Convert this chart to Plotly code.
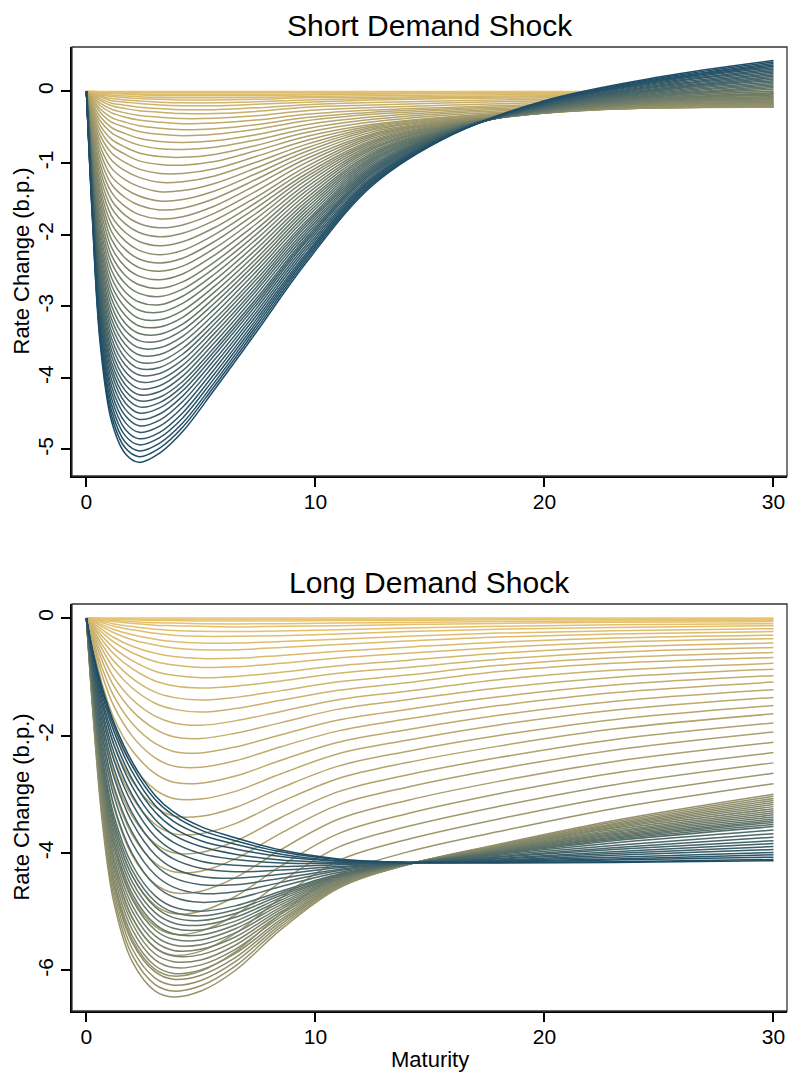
import plotly.graph_objects as go

# Maturity grid (years) for each panel
maturity_short = [0, 0.25, 0.6, 1.1, 1.7, 2.3, 3.2, 4.2, 5.6, 7.4, 9.6, 12.5, 16, 20, 25, 30]
maturity_long = [0, 0.3, 0.7, 1.2, 2, 3, 3.8, 5, 6.5, 8.5, 11, 14, 18, 23, 30]

# Rate change (b.p.) along the maturity grid, one row per curve, ordered gold -> blue
short_shock_curves = [
    [0, 0, 0, 0, 0, 0, 0, 0, 0, 0, 0, 0, 0, 0, 0, 0],
    [0, 0, -0.005, -0.005, -0.005, -0.01, -0.01, -0.01, -0.01, -0.01, -0.01, -0.005, -0.005, -0.005, -0.005, -0.005],
    [0, 0, -0.01, -0.01, -0.01, -0.02, -0.02, -0.02, -0.02, -0.02, -0.02, -0.01, -0.01, -0.01, -0.01, -0.01],
    [0, -0.005, -0.015, -0.02, -0.025, -0.035, -0.04, -0.04, -0.04, -0.04, -0.035, -0.025, -0.02, -0.02, -0.015, -0.015],
    [0, -0.01, -0.02, -0.03, -0.04, -0.05, -0.06, -0.06, -0.06, -0.06, -0.05, -0.04, -0.03, -0.03, -0.02, -0.02],
    [0, -0.015, -0.035, -0.05, -0.065, -0.075, -0.085, -0.09, -0.09, -0.085, -0.07, -0.06, -0.05, -0.045, -0.035, -0.03],
    [0, -0.02, -0.05, -0.07, -0.09, -0.10, -0.11, -0.12, -0.12, -0.11, -0.09, -0.08, -0.07, -0.06, -0.05, -0.04],
    [0, -0.03, -0.065, -0.10, -0.12, -0.135, -0.15, -0.16, -0.16, -0.145, -0.12, -0.10, -0.085, -0.075, -0.06, -0.055],
    [0, -0.04, -0.08, -0.13, -0.15, -0.17, -0.19, -0.20, -0.20, -0.18, -0.15, -0.12, -0.10, -0.09, -0.07, -0.07],
    [0, -0.05, -0.105, -0.165, -0.195, -0.22, -0.24, -0.255, -0.255, -0.23, -0.185, -0.155, -0.13, -0.11, -0.09, -0.085],
    [0, -0.06, -0.13, -0.20, -0.24, -0.27, -0.29, -0.31, -0.31, -0.28, -0.22, -0.19, -0.16, -0.13, -0.11, -0.10],
    [0, -0.075, -0.165, -0.25, -0.30, -0.335, -0.36, -0.38, -0.375, -0.34, -0.27, -0.225, -0.19, -0.155, -0.13, -0.12],
    [0, -0.09, -0.20, -0.30, -0.36, -0.40, -0.43, -0.45, -0.44, -0.40, -0.32, -0.26, -0.22, -0.18, -0.15, -0.14],
    [0, -0.11, -0.245, -0.365, -0.43, -0.48, -0.515, -0.535, -0.52, -0.465, -0.365, -0.29, -0.24, -0.20, -0.165, -0.15],
    [0, -0.13, -0.29, -0.43, -0.50, -0.56, -0.60, -0.62, -0.60, -0.53, -0.41, -0.32, -0.26, -0.22, -0.18, -0.16],
    [0, -0.16, -0.35, -0.505, -0.59, -0.655, -0.70, -0.715, -0.69, -0.605, -0.465, -0.355, -0.28, -0.235, -0.195, -0.17],
    [0, -0.19, -0.41, -0.58, -0.68, -0.75, -0.80, -0.81, -0.78, -0.68, -0.52, -0.39, -0.30, -0.25, -0.21, -0.18],
    [0, -0.22, -0.475, -0.67, -0.78, -0.86, -0.91, -0.92, -0.88, -0.755, -0.575, -0.425, -0.325, -0.265, -0.22, -0.195],
    [0, -0.25, -0.54, -0.76, -0.88, -0.97, -1.02, -1.03, -0.98, -0.83, -0.63, -0.46, -0.35, -0.28, -0.23, -0.21],
    [0, -0.285, -0.615, -0.86, -0.995, -1.085, -1.145, -1.145, -1.08, -0.91, -0.685, -0.48, -0.36, -0.28, -0.23, -0.21],
    [0, -0.32, -0.69, -0.96, -1.11, -1.20, -1.27, -1.26, -1.18, -0.99, -0.74, -0.50, -0.37, -0.28, -0.23, -0.21],
    [0, -0.36, -0.77, -1.075, -1.235, -1.33, -1.40, -1.385, -1.285, -1.07, -0.79, -0.52, -0.38, -0.285, -0.23, -0.215],
    [0, -0.40, -0.85, -1.19, -1.36, -1.46, -1.53, -1.51, -1.39, -1.15, -0.84, -0.54, -0.39, -0.29, -0.23, -0.22],
    [0, -0.44, -0.935, -1.30, -1.485, -1.59, -1.655, -1.63, -1.495, -1.23, -0.89, -0.565, -0.40, -0.295, -0.225, -0.215],
    [0, -0.48, -1.02, -1.41, -1.61, -1.72, -1.78, -1.75, -1.60, -1.31, -0.94, -0.59, -0.41, -0.30, -0.22, -0.21],
    [0, -0.52, -1.105, -1.52, -1.73, -1.845, -1.905, -1.865, -1.70, -1.395, -0.995, -0.61, -0.415, -0.30, -0.21, -0.195],
    [0, -0.56, -1.19, -1.63, -1.85, -1.97, -2.03, -1.98, -1.80, -1.48, -1.05, -0.63, -0.42, -0.30, -0.20, -0.18],
    [0, -0.60, -1.275, -1.74, -1.97, -2.095, -2.155, -2.10, -1.90, -1.555, -1.10, -0.655, -0.43, -0.30, -0.19, -0.165],
    [0, -0.64, -1.36, -1.85, -2.09, -2.22, -2.28, -2.22, -2.00, -1.63, -1.15, -0.68, -0.44, -0.30, -0.18, -0.15],
    [0, -0.685, -1.44, -1.96, -2.21, -2.34, -2.395, -2.33, -2.095, -1.705, -1.195, -0.70, -0.45, -0.30, -0.17, -0.135],
    [0, -0.73, -1.52, -2.07, -2.33, -2.46, -2.51, -2.44, -2.19, -1.78, -1.24, -0.72, -0.46, -0.30, -0.16, -0.12],
    [0, -0.77, -1.61, -2.18, -2.45, -2.58, -2.63, -2.55, -2.285, -1.855, -1.29, -0.745, -0.465, -0.295, -0.15, -0.105],
    [0, -0.81, -1.70, -2.29, -2.57, -2.70, -2.75, -2.66, -2.38, -1.93, -1.34, -0.77, -0.47, -0.29, -0.14, -0.09],
    [0, -0.85, -1.785, -2.395, -2.685, -2.82, -2.865, -2.76, -2.465, -2.00, -1.39, -0.79, -0.475, -0.285, -0.13, -0.07],
    [0, -0.89, -1.87, -2.50, -2.80, -2.94, -2.98, -2.86, -2.55, -2.07, -1.44, -0.81, -0.48, -0.28, -0.12, -0.05],
    [0, -0.93, -1.95, -2.605, -2.91, -3.055, -3.085, -2.96, -2.635, -2.14, -1.49, -0.835, -0.49, -0.275, -0.11, -0.035],
    [0, -0.97, -2.03, -2.71, -3.02, -3.17, -3.19, -3.06, -2.72, -2.21, -1.54, -0.86, -0.50, -0.27, -0.10, -0.02],
    [0, -1.01, -2.105, -2.805, -3.13, -3.275, -3.29, -3.155, -2.80, -2.275, -1.585, -0.88, -0.505, -0.265, -0.085, 0.005],
    [0, -1.05, -2.18, -2.90, -3.24, -3.38, -3.39, -3.25, -2.88, -2.34, -1.63, -0.90, -0.51, -0.26, -0.07, 0.03],
    [0, -1.085, -2.255, -2.995, -3.34, -3.48, -3.485, -3.335, -2.955, -2.40, -1.675, -0.92, -0.515, -0.255, -0.06, 0.05],
    [0, -1.12, -2.33, -3.09, -3.44, -3.58, -3.58, -3.42, -3.03, -2.46, -1.72, -0.94, -0.52, -0.25, -0.05, 0.07],
    [0, -1.155, -2.40, -3.18, -3.535, -3.68, -3.675, -3.505, -3.105, -2.52, -1.765, -0.96, -0.525, -0.245, -0.035, 0.09],
    [0, -1.19, -2.47, -3.27, -3.63, -3.78, -3.77, -3.59, -3.18, -2.58, -1.81, -0.98, -0.53, -0.24, -0.02, 0.11],
    [0, -1.225, -2.54, -3.36, -3.725, -3.87, -3.855, -3.67, -3.245, -2.635, -1.845, -1.005, -0.535, -0.235, -0.005, 0.13],
    [0, -1.26, -2.61, -3.45, -3.82, -3.96, -3.94, -3.75, -3.31, -2.69, -1.88, -1.03, -0.54, -0.23, 0.01, 0.15],
    [0, -1.295, -2.68, -3.535, -3.915, -4.055, -4.025, -3.825, -3.375, -2.74, -1.92, -1.05, -0.545, -0.22, 0.02, 0.17],
    [0, -1.33, -2.75, -3.62, -4.01, -4.15, -4.11, -3.90, -3.44, -2.79, -1.96, -1.07, -0.55, -0.21, 0.03, 0.19],
    [0, -1.36, -2.815, -3.705, -4.095, -4.235, -4.19, -3.975, -3.505, -2.845, -2.00, -1.09, -0.555, -0.205, 0.045, 0.21],
    [0, -1.39, -2.88, -3.79, -4.18, -4.32, -4.27, -4.05, -3.57, -2.90, -2.04, -1.11, -0.56, -0.20, 0.06, 0.23],
    [0, -1.42, -2.94, -3.865, -4.265, -4.405, -4.345, -4.115, -3.625, -2.945, -2.07, -1.13, -0.565, -0.195, 0.075, 0.25],
    [0, -1.45, -3.00, -3.94, -4.35, -4.49, -4.42, -4.18, -3.68, -2.99, -2.10, -1.15, -0.57, -0.19, 0.09, 0.27],
    [0, -1.485, -3.07, -4.03, -4.44, -4.58, -4.505, -4.255, -3.745, -3.04, -2.14, -1.175, -0.575, -0.18, 0.105, 0.29],
    [0, -1.52, -3.14, -4.12, -4.53, -4.67, -4.59, -4.33, -3.81, -3.09, -2.18, -1.20, -0.58, -0.17, 0.12, 0.31],
    [0, -1.555, -3.205, -4.205, -4.625, -4.76, -4.675, -4.41, -3.875, -3.14, -2.22, -1.215, -0.585, -0.165, 0.135, 0.33],
    [0, -1.59, -3.27, -4.29, -4.72, -4.85, -4.76, -4.49, -3.94, -3.19, -2.26, -1.23, -0.59, -0.16, 0.15, 0.35],
    [0, -1.62, -3.34, -4.375, -4.81, -4.935, -4.835, -4.56, -4.00, -3.235, -2.29, -1.25, -0.59, -0.155, 0.16, 0.37],
    [0, -1.65, -3.41, -4.46, -4.90, -5.02, -4.91, -4.63, -4.06, -3.28, -2.32, -1.27, -0.59, -0.15, 0.17, 0.39],
    [0, -1.68, -3.465, -4.535, -4.98, -5.10, -4.98, -4.69, -4.11, -3.325, -2.355, -1.29, -0.595, -0.14, 0.185, 0.41],
    [0, -1.71, -3.52, -4.61, -5.06, -5.18, -5.05, -4.75, -4.16, -3.37, -2.39, -1.31, -0.60, -0.13, 0.20, 0.43],
]

long_shock_curves = [
    [0, 0, 0, 0, 0, 0, 0, 0, 0, 0, 0, 0, 0, 0, 0],
    [0, 0, -0.005, -0.01, -0.015, -0.02, -0.02, -0.025, -0.025, -0.025, -0.02, -0.02, -0.015, -0.015, -0.01],
    [0, 0, -0.01, -0.02, -0.03, -0.04, -0.04, -0.05, -0.05, -0.05, -0.04, -0.04, -0.03, -0.03, -0.02],
    [0, -0.005, -0.025, -0.04, -0.06, -0.08, -0.085, -0.095, -0.10, -0.095, -0.085, -0.075, -0.06, -0.05, -0.04],
    [0, -0.01, -0.04, -0.06, -0.09, -0.12, -0.13, -0.14, -0.15, -0.14, -0.13, -0.11, -0.09, -0.07, -0.06],
    [0, -0.02, -0.06, -0.10, -0.145, -0.19, -0.21, -0.225, -0.23, -0.22, -0.20, -0.17, -0.14, -0.115, -0.095],
    [0, -0.03, -0.08, -0.14, -0.20, -0.26, -0.29, -0.31, -0.31, -0.30, -0.27, -0.23, -0.19, -0.16, -0.13],
    [0, -0.045, -0.115, -0.195, -0.285, -0.36, -0.40, -0.425, -0.425, -0.40, -0.36, -0.31, -0.255, -0.215, -0.18],
    [0, -0.06, -0.15, -0.25, -0.37, -0.46, -0.51, -0.54, -0.54, -0.50, -0.45, -0.39, -0.32, -0.27, -0.23],
    [0, -0.085, -0.20, -0.33, -0.48, -0.60, -0.655, -0.69, -0.685, -0.635, -0.565, -0.495, -0.41, -0.34, -0.29],
    [0, -0.11, -0.25, -0.41, -0.59, -0.74, -0.80, -0.84, -0.83, -0.77, -0.68, -0.60, -0.50, -0.41, -0.35],
    [0, -0.135, -0.315, -0.51, -0.725, -0.905, -0.975, -1.015, -0.995, -0.92, -0.81, -0.72, -0.60, -0.495, -0.425],
    [0, -0.16, -0.38, -0.61, -0.86, -1.07, -1.15, -1.19, -1.16, -1.07, -0.94, -0.84, -0.70, -0.58, -0.50],
    [0, -0.195, -0.46, -0.735, -1.025, -1.26, -1.35, -1.395, -1.35, -1.235, -1.085, -0.97, -0.805, -0.675, -0.585],
    [0, -0.23, -0.54, -0.86, -1.19, -1.45, -1.55, -1.60, -1.54, -1.40, -1.23, -1.10, -0.91, -0.77, -0.67],
    [0, -0.275, -0.64, -1.01, -1.385, -1.67, -1.785, -1.825, -1.75, -1.59, -1.39, -1.245, -1.05, -0.89, -0.77],
    [0, -0.32, -0.74, -1.16, -1.58, -1.89, -2.02, -2.05, -1.96, -1.78, -1.55, -1.39, -1.19, -1.01, -0.87],
    [0, -0.38, -0.865, -1.33, -1.795, -2.135, -2.27, -2.295, -2.195, -1.985, -1.735, -1.555, -1.34, -1.14, -0.98],
    [0, -0.44, -0.99, -1.50, -2.01, -2.38, -2.52, -2.54, -2.43, -2.19, -1.92, -1.72, -1.49, -1.27, -1.09],
    [0, -0.51, -1.135, -1.705, -2.255, -2.65, -2.795, -2.81, -2.69, -2.42, -2.115, -1.90, -1.655, -1.42, -1.22],
    [0, -0.58, -1.28, -1.91, -2.50, -2.92, -3.07, -3.08, -2.95, -2.65, -2.31, -2.08, -1.82, -1.57, -1.35],
    [0, -0.66, -1.455, -2.15, -2.775, -3.215, -3.37, -3.375, -3.225, -2.89, -2.52, -2.27, -2.00, -1.73, -1.49],
    [0, -0.74, -1.63, -2.39, -3.05, -3.51, -3.67, -3.67, -3.50, -3.13, -2.73, -2.46, -2.18, -1.89, -1.63],
    [0, -0.845, -1.83, -2.655, -3.37, -3.84, -3.995, -3.99, -3.80, -3.395, -2.955, -2.67, -2.375, -2.07, -1.785],
    [0, -0.95, -2.03, -2.92, -3.69, -4.17, -4.32, -4.31, -4.10, -3.66, -3.18, -2.88, -2.57, -2.25, -1.94],
    [0, -1.065, -2.255, -3.22, -4.04, -4.53, -4.675, -4.65, -4.42, -3.94, -3.425, -3.105, -2.78, -2.445, -2.115],
    [0, -1.18, -2.48, -3.52, -4.39, -4.89, -5.03, -4.99, -4.74, -4.22, -3.67, -3.33, -2.99, -2.64, -2.29],
    [0, -1.305, -2.73, -3.845, -4.75, -5.25, -5.385, -5.33, -5.055, -4.49, -3.90, -3.55, -3.205, -2.84, -2.465],
    [0, -1.43, -2.98, -4.17, -5.11, -5.61, -5.74, -5.67, -5.37, -4.76, -4.13, -3.77, -3.42, -3.04, -2.64],
    [0, -1.565, -3.24, -4.51, -5.48, -5.98, -6.095, -6.01, -5.685, -5.03, -4.365, -3.985, -3.635, -3.245, -2.82],
    [0, -1.70, -3.50, -4.85, -5.85, -6.35, -6.45, -6.35, -6.00, -5.30, -4.60, -4.20, -3.85, -3.45, -3.00],
    [0, -1.665, -3.425, -4.75, -5.74, -6.24, -6.35, -6.26, -5.925, -5.255, -4.585, -4.20, -3.86, -3.475, -3.035],
    [0, -1.63, -3.35, -4.65, -5.63, -6.13, -6.25, -6.17, -5.85, -5.21, -4.57, -4.20, -3.87, -3.50, -3.07],
    [0, -1.595, -3.28, -4.555, -5.52, -6.025, -6.15, -6.08, -5.78, -5.17, -4.555, -4.195, -3.88, -3.52, -3.105],
    [0, -1.56, -3.21, -4.46, -5.41, -5.92, -6.05, -5.99, -5.71, -5.13, -4.54, -4.19, -3.89, -3.54, -3.14],
    [0, -1.525, -3.135, -4.365, -5.305, -5.82, -5.95, -5.905, -5.64, -5.085, -4.525, -4.19, -3.90, -3.56, -3.175],
    [0, -1.49, -3.06, -4.27, -5.20, -5.72, -5.85, -5.82, -5.57, -5.04, -4.51, -4.19, -3.91, -3.58, -3.21],
    [0, -1.455, -2.99, -4.175, -5.095, -5.615, -5.755, -5.73, -5.50, -5.00, -4.49, -4.19, -3.92, -3.605, -3.245],
    [0, -1.42, -2.92, -4.08, -4.99, -5.51, -5.66, -5.64, -5.43, -4.96, -4.47, -4.19, -3.93, -3.63, -3.28],
    [0, -1.39, -2.85, -3.985, -4.89, -5.41, -5.565, -5.56, -5.36, -4.92, -4.455, -4.19, -3.94, -3.65, -3.315],
    [0, -1.36, -2.78, -3.89, -4.79, -5.31, -5.47, -5.48, -5.29, -4.88, -4.44, -4.19, -3.95, -3.67, -3.35],
    [0, -1.325, -2.715, -3.80, -4.69, -5.21, -5.375, -5.395, -5.225, -4.84, -4.425, -4.19, -3.96, -3.69, -3.385],
    [0, -1.29, -2.65, -3.71, -4.59, -5.11, -5.28, -5.31, -5.16, -4.80, -4.41, -4.19, -3.97, -3.71, -3.42],
    [0, -1.26, -2.58, -3.62, -4.49, -5.015, -5.19, -5.23, -5.095, -4.76, -4.40, -4.185, -3.98, -3.73, -3.45],
    [0, -1.23, -2.51, -3.53, -4.39, -4.92, -5.10, -5.15, -5.03, -4.72, -4.39, -4.18, -3.99, -3.75, -3.48],
    [0, -1.20, -2.445, -3.445, -4.295, -4.825, -5.01, -5.07, -4.965, -4.685, -4.375, -4.18, -4.00, -3.77, -3.515],
    [0, -1.17, -2.38, -3.36, -4.20, -4.73, -4.92, -4.99, -4.90, -4.65, -4.36, -4.18, -4.01, -3.79, -3.55],
    [0, -1.11, -2.26, -3.19, -4.01, -4.55, -4.75, -4.84, -4.78, -4.57, -4.33, -4.18, -4.02, -3.83, -3.61],
    [0, -1.05, -2.13, -3.03, -3.83, -4.37, -4.58, -4.69, -4.66, -4.50, -4.30, -4.18, -4.04, -3.87, -3.67],
    [0, -0.99, -2.01, -2.87, -3.65, -4.20, -4.42, -4.54, -4.54, -4.43, -4.28, -4.17, -4.06, -3.91, -3.73],
    [0, -0.93, -1.90, -2.71, -3.48, -4.03, -4.26, -4.40, -4.43, -4.36, -4.25, -4.17, -4.07, -3.94, -3.79],
    [0, -0.88, -1.79, -2.56, -3.32, -3.87, -4.10, -4.26, -4.32, -4.29, -4.23, -4.17, -4.09, -3.98, -3.84],
    [0, -0.83, -1.68, -2.42, -3.16, -3.72, -3.96, -4.14, -4.21, -4.23, -4.20, -4.17, -4.10, -4.01, -3.89],
    [0, -0.78, -1.58, -2.29, -3.01, -3.57, -3.82, -4.01, -4.11, -4.17, -4.18, -4.17, -4.12, -4.04, -3.94],
    [0, -0.74, -1.48, -2.16, -2.87, -3.43, -3.69, -3.89, -4.02, -4.12, -4.16, -4.16, -4.13, -4.07, -3.99],
    [0, -0.69, -1.40, -2.04, -2.74, -3.30, -3.57, -3.79, -3.93, -4.06, -4.14, -4.16, -4.14, -4.10, -4.03],
    [0, -0.66, -1.32, -1.93, -2.62, -3.19, -3.46, -3.69, -3.85, -4.02, -4.13, -4.16, -4.15, -4.12, -4.07],
    [0, -0.62, -1.25, -1.84, -2.52, -3.09, -3.36, -3.61, -3.79, -3.98, -4.11, -4.16, -4.16, -4.15, -4.11],
    [0, -0.60, -1.20, -1.78, -2.45, -3.02, -3.30, -3.55, -3.74, -3.95, -4.10, -4.16, -4.17, -4.16, -4.13],
]

x_ticks = [0, 10, 20, 30]
short_y_ticks = [0, -1, -2, -3, -4, -5]
long_y_ticks = [0, -2, -4, -6]

panel_titles = ["Short Demand Shock", "Long Demand Shock"]
y_title = "Rate Change (b.p.)"
x_title = "Maturity"

GOLD = (234, 196, 110)
BLUE = (30, 77, 103)
FONT = "Liberation Sans, Arial, Helvetica, sans-serif"


def shade(i, n, gamma=1.0):
    t = (i / (n - 1)) ** gamma
    r, g, b = (round(a + (c - a) * t) for a, c in zip(GOLD, BLUE))
    return f"rgb({r},{g},{b})"


fig = go.Figure()

for rows, xs, xa, ya, gamma in [
    (short_shock_curves, maturity_short, "x", "y", 1.0),
    (long_shock_curves, maturity_long, "x2", "y2", 1.35),
]:
    n = len(rows)
    for i, row in enumerate(rows):
        fig.add_trace(go.Scatter(
            x=xs, y=row, mode="lines", xaxis=xa, yaxis=ya,
            line=dict(color=shade(i, n, gamma), width=1.5, shape="spline", smoothing=1.0),
            hoverinfo="skip", showlegend=False,
        ))

axis_common = dict(
    showgrid=False, zeroline=False, showline=True, linewidth=2, linecolor="black",
    ticks="outside", ticklen=9, tickwidth=1.5, tickcolor="black",
    tickfont=dict(family=FONT, size=21, color="black"),
)

top_dom = [0.555, 1.0]
bot_dom = [0.0, 0.4222]

fig.update_layout(
    width=788, height=1073,
    margin=dict(l=72, r=1, t=47, b=62),
    paper_bgcolor="white", plot_bgcolor="white",
    font=dict(family=FONT, color="black"),
    xaxis=dict(domain=[0, 1], anchor="y", range=[-0.63, 30.59], ticklabelstandoff=-3,
               tickvals=x_ticks, ticktext=[str(v) for v in x_ticks], **axis_common),
    yaxis=dict(domain=top_dom, anchor="x", range=[-5.37, 0.62], tickangle=-90,
               tickvals=short_y_ticks, ticktext=[str(v) for v in short_y_ticks], **axis_common),
    xaxis2=dict(domain=[0, 1], anchor="y2", range=[-0.63, 30.59], ticklabelstandoff=-3,
                tickvals=x_ticks, ticktext=[str(v) for v in x_ticks], **axis_common),
    yaxis2=dict(domain=bot_dom, anchor="x2", range=[-6.69, 0.24], tickangle=-90,
                tickvals=long_y_ticks, ticktext=[str(v) for v in long_y_ticks], **axis_common),
)

# plot-region frames
for xr, yr in [("x domain", "y domain"), ("x2 domain", "y2 domain")]:
    fig.add_shape(type="rect", xref=xr, yref=yr, x0=0, x1=1, y0=0, y1=1,
                  line=dict(color="#333333", width=1.3), layer="above")

annotations = [
    dict(text=panel_titles[0], x=0.5, y=1.0224, font=dict(size=30)),
    dict(text=panel_titles[1], x=0.5, y=0.444, font=dict(size=30)),
    dict(text=x_title, x=0.5, y=-0.0498, font=dict(size=22)),
    dict(text=y_title, x=-0.0713, y=sum(top_dom) / 2, textangle=-90, font=dict(size=22)),
    dict(text=y_title, x=-0.0713, y=sum(bot_dom) / 2, textangle=-90, font=dict(size=22)),
]
for a in annotations:
    fig.add_annotation(xref="paper", yref="paper", showarrow=False,
                       xanchor="center", yanchor="middle", **a)

fig.write_html("out.html")
